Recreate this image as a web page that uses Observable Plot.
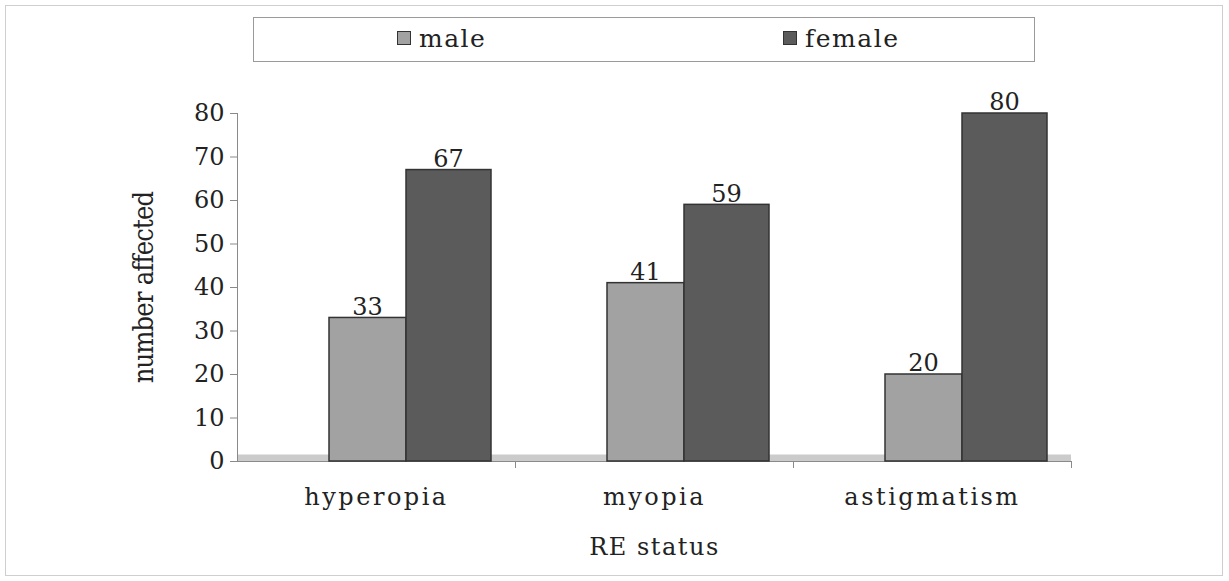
<!DOCTYPE html>
<html>
<head>
<meta charset="utf-8">
<script src="https://cdn.jsdelivr.net/npm/d3@7"></script>
<script src="https://cdn.jsdelivr.net/npm/@observablehq/plot@0.6"></script>
<style>
  html, body { margin: 0; padding: 0; background: #fff; }
  #wrap { position: relative; width: 1229px; height: 581px; overflow: hidden; font-family: "DejaVu Serif", serif; color: #222; }
  #frame { position: absolute; left: 5px; top: 5px; width: 1218px; height: 571px; border: 1px solid #cfcfcf; box-sizing: border-box; pointer-events: none; }
  #legend { position: absolute; left: 253px; top: 17px; width: 782px; height: 45px; border: 1px solid #9a9a9a; box-sizing: border-box; background: #fff; }
  .item { position: absolute; top: 7px; font-size: 25px; line-height: 28px; letter-spacing: 1.5px; white-space: nowrap; }
  .sw { display: inline-block; width: 12px; height: 12px; border: 1px solid #333; margin-right: 8px; vertical-align: 2px; }
  #chart { position: absolute; left: 0; top: 70px; }
</style>
</head>
<body>
<div id="wrap">
  <div id="frame"></div>
  <div id="legend"></div>
  <div id="chart"></div>
</div>
<script>
const categories = ["hyperopia", "myopia", "astigmatism"];
const series = ["male", "female"];
const maleValues = [33, 41, 20];
const femaleValues = [67, 59, 80];
const yTicks = [0, 10, 20, 30, 40, 50, 60, 70, 80];
const colors = { male: "#a2a2a2", female: "#5b5b5b" };

const maleData = categories.map((c, i) => ({ category: c, sex: "male", value: maleValues[i] }));
const femaleData = categories.map((c, i) => ({ category: c, sex: "female", value: femaleValues[i] }));

// legend
const legend = document.getElementById("legend");
const legendPos = { male: 143, female: 529 };
series.forEach(s => {
  const d = document.createElement("div");
  d.className = "item";
  d.style.left = legendPos[s] + "px";
  d.innerHTML = `<span class="sw" style="background:${colors[s]}"></span>${s}`;
  legend.appendChild(d);
});

const font = "DejaVu Serif, serif";

const chart = Plot.plot({
  width: 1229,
  height: 511,
  marginLeft: 237,
  marginRight: 158,
  marginTop: 43,
  marginBottom: 120,
  style: { fontFamily: font, color: "#222", background: "transparent" },
  x: { domain: categories, padding: 0 },
  y: { domain: [0, 80] },
  marks: [
    // floor
    Plot.ruleY([0], { stroke: "#cbcbcb", strokeWidth: 7, dy: -3.5 }),
    Plot.ruleY([0], { stroke: "#8a8a8a", strokeWidth: 1 }),
    Plot.frame({ anchor: "left", stroke: "#8a8a8a" }),
    // x ticks at category boundaries
    Plot.ruleX(categories, { x: d => d, y1: 0, y2: 0, dx: 139, insetBottom: -7, stroke: "#8a8a8a" }),
    Plot.barY(maleData, { x: "category", y: "value", fill: colors.male, stroke: "#333", strokeWidth: 1.5, insetLeft: 92, insetRight: 109 }),
    Plot.barY(femaleData, { x: "category", y: "value", fill: colors.female, stroke: "#333", strokeWidth: 1.5, insetLeft: 169, insetRight: 24 }),
    Plot.text(maleData, { x: "category", y: "value", text: d => String(d.value), dx: -9, dy: -11, fontSize: 24, fill: "#222" }),
    Plot.text(femaleData, { x: "category", y: "value", text: d => String(d.value), dx: 72, dy: -11, fontSize: 24, fill: "#222" }),
    Plot.axisY({ ticks: yTicks, tickSize: 7, tickPadding: 6, fontSize: 24, stroke: "#8a8a8a", label: "number affected", labelAnchor: "center", labelOffset: 104 }),
    Plot.axisX({ tickSize: 0, tickPadding: 26, fontSize: 24, label: "RE status", labelAnchor: "center", labelOffset: 93 })
  ]
});

// style axis labels
const stripArrow = el => {
  const t = el.tagName.toLowerCase() === "text" ? [el] : el.querySelectorAll("text");
  t.forEach(n => { n.textContent = n.textContent.replace(/[↑→↓←]/g, "").trim(); });
};
chart.querySelectorAll("[aria-label='y-axis label']").forEach(el => {
  stripArrow(el);
  const texts = el.tagName.toLowerCase() === "text" ? [el] : [el, ...el.querySelectorAll("text")];
  texts.forEach(t => {
    t.setAttribute("font-size", "27");
    t.setAttribute("font-family", "DejaVu Serif Condensed, DejaVu Serif, serif");
    t.style.letterSpacing = "-0.8px";
  });
});
chart.querySelectorAll("[aria-label='x-axis label']").forEach(el => {
  stripArrow(el);
  el.setAttribute("font-size", "24");
  el.style.letterSpacing = "1.5px";
});
chart.querySelectorAll("[aria-label='x-axis tick label']").forEach(el => {
  el.style.letterSpacing = "2.5px";
});
document.getElementById("chart").appendChild(chart);
</script>
</body>
</html>
